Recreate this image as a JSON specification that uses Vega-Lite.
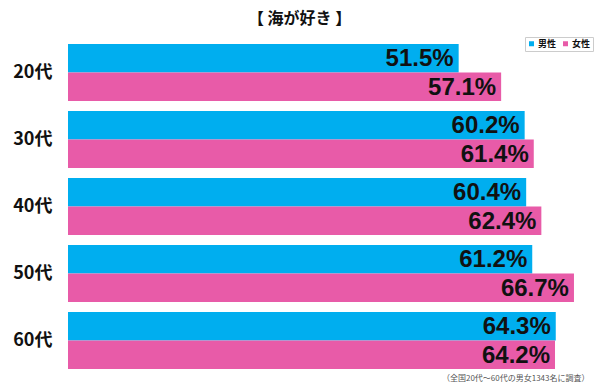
{
  "$schema": "https://vega.github.io/schema/vega-lite/v6.json",
  "autosize": {"type": "none"},
  "width": 531,
  "height": 335,
  "padding": {"left": 68, "top": 39, "right": 1, "bottom": 14},
  "background": "white",
  "config": {"view": {"stroke": null}},
  "title": {
    "text": "【 海が好き 】",
    "font": "Noto Sans CJK JP",
    "fontSize": 16,
    "fontWeight": "bold",
    "color": "#111111",
    "anchor": "middle",
    "dx": -34,
    "offset": 10
  },
  "data": {
    "values": [
      {"age": "20代", "gender": "男性", "value": 51.5},
      {"age": "20代", "gender": "女性", "value": 57.1},
      {"age": "30代", "gender": "男性", "value": 60.2},
      {"age": "30代", "gender": "女性", "value": 61.4},
      {"age": "40代", "gender": "男性", "value": 60.4},
      {"age": "40代", "gender": "女性", "value": 62.4},
      {"age": "50代", "gender": "男性", "value": 61.2},
      {"age": "50代", "gender": "女性", "value": 66.7},
      {"age": "60代", "gender": "男性", "value": 64.3},
      {"age": "60代", "gender": "女性", "value": 64.2}
    ]
  },
  "transform": [
    {"calculate": "format(datum.value, '.1f') + '%'", "as": "label"}
  ],
  "encoding": {
    "y": {
      "field": "age",
      "type": "nominal",
      "sort": ["20代", "30代", "40代", "50代", "60代"],
      "scale": {"paddingInner": 0.15, "paddingOuter": 0.075},
      "axis": {
        "title": null,
        "domain": false,
        "ticks": false,
        "labelPadding": 16,
        "labelFont": "Noto Sans CJK JP",
        "labelFontSize": 18,
        "labelFontWeight": "bold",
        "labelColor": "#111111"
      }
    },
    "yOffset": {"field": "gender", "type": "nominal", "sort": ["男性", "女性"]},
    "x": {
      "field": "value",
      "type": "quantitative",
      "scale": {"domain": [0, 70], "nice": false},
      "axis": {
        "title": "（全国20代～60代の男女1343名に調査）",
        "titleFont": "Noto Sans CJK JP",
        "titleFontSize": 8,
        "titleFontWeight": "normal",
        "titleColor": "#555555",
        "titleAnchor": "end",
        "titlePadding": 0,
        "titleX": 521,
        "labels": false,
        "ticks": false,
        "domain": false,
        "grid": false
      }
    }
  },
  "layer": [
    {
      "mark": {"type": "bar"},
      "encoding": {
        "color": {
          "field": "gender",
          "type": "nominal",
          "sort": ["男性", "女性"],
          "scale": {"domain": ["男性", "女性"], "range": ["#00AEEF", "#E85BA8"]},
          "legend": {
            "title": null,
            "orient": "none",
            "legendX": 457,
            "legendY": -2,
            "direction": "horizontal",
            "symbolType": "square",
            "symbolSize": 25,
            "symbolStrokeWidth": 0,
            "labelFont": "Noto Sans CJK JP",
            "labelFontSize": 9,
            "labelFontWeight": "bold",
            "labelColor": "#111111",
            "columnPadding": 4,
            "labelOffset": 2,
            "padding": 2,
            "fillColor": "white",
            "strokeColor": "#cccccc"
          }
        }
      }
    },
    {
      "mark": {
        "type": "text",
        "align": "right",
        "baseline": "middle",
        "dx": -5,
        "dy": 1,
        "font": "Liberation Sans",
        "fontSize": 24,
        "fontWeight": "bold",
        "color": "#111111"
      },
      "encoding": {
        "text": {"field": "label", "type": "nominal"}
      }
    }
  ]
}
